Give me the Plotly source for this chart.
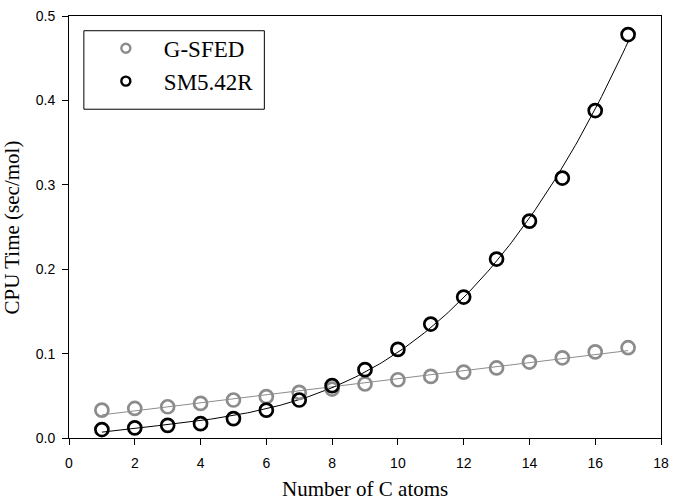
import numpy as np
import plotly.graph_objects as go

carbons = list(range(1, 18))
gsfed = [0.033, 0.035, 0.037, 0.041, 0.045, 0.049, 0.054, 0.058, 0.064, 0.069,
         0.073, 0.078, 0.083, 0.090, 0.095, 0.102, 0.107]
sm542r = [0.010, 0.012, 0.015, 0.017, 0.023, 0.033, 0.045, 0.062, 0.081, 0.105,
          0.135, 0.167, 0.212, 0.257, 0.308, 0.388, 0.478]
series_names = ["G-SFED", "SM5.42R"]
x_ticks = list(range(0, 19, 2))
y_ticks = [0.0, 0.1, 0.2, 0.3, 0.4, 0.5]
y_tick_labels = ["0.0", "0.1", "0.2", "0.3", "0.4", "0.5"]

GRAY = "#8c8c8c"
SERIF = "Liberation Serif, Times New Roman, serif"
SANS = "Liberation Sans, Arial, sans-serif"

# fitted curves computed from the data
xs = np.linspace(1, 17, 200)
g_fit = np.polyval(np.polyfit(carbons, gsfed, 1), xs)
s_fit = np.polyval(np.polyfit(carbons, sm542r, 3), xs)

fig = go.Figure()
fig.add_trace(go.Scatter(x=xs, y=g_fit, mode="lines", line=dict(color=GRAY, width=1),
                         showlegend=False, hoverinfo="skip"))
fig.add_trace(go.Scatter(x=xs, y=s_fit, mode="lines", line=dict(color="black", width=1),
                         showlegend=False, hoverinfo="skip"))
for name, vals, col in [(series_names[0], gsfed, GRAY), (series_names[1], sm542r, "black")]:
    fig.add_trace(go.Scatter(x=carbons, y=vals, mode="markers", name=name, showlegend=False,
                             marker=dict(symbol="circle-open", size=13, color=col,
                                         line=dict(width=2.7, color=col))))
    # legend entry with smaller symbol
    fig.add_trace(go.Scatter(x=[None], y=[None], mode="markers", name=name,
                             marker=dict(symbol="circle-open", size=9, color=col,
                                         line=dict(width=2.4, color=col))))

axis_common = dict(showgrid=False, zeroline=False, showline=True, linecolor="black",
                   linewidth=1, mirror=True, ticks="outside", ticklen=6, tickcolor="black",
                   tickfont=dict(family=SANS, size=14, color="black"))
fig.update_xaxes(range=[0, 18], tickvals=x_ticks, ticklabelstandoff=6, **axis_common)
fig.update_yaxes(range=[0, 0.5], tickvals=y_ticks, ticktext=y_tick_labels,
                 ticklabelstandoff=4, **axis_common)

W, H = 677, 500
L, R, T, B = 69, 11, 8, 62
pw, ph = W - L - R, H - T - B


def px(x):
    return (x - L) / pw


def py(y):
    return (H - B - y) / ph


fig.update_layout(
    width=W, height=H,
    margin=dict(l=L, r=R, t=T, b=B),
    paper_bgcolor="white", plot_bgcolor="white",
    legend=dict(x=px(88), y=py(19), xanchor="left", yanchor="top",
                borderwidth=0, bgcolor="rgba(0,0,0,0)",
                font=dict(family=SERIF, size=23, color="black"),
                itemwidth=66, tracegroupgap=0),
    shapes=[dict(type="rect", xref="paper", yref="paper",
                 x0=px(84), x1=px(266), y0=py(103), y1=py(23),
                 line=dict(color="black", width=1), fillcolor="rgba(0,0,0,0)")],
    annotations=[
        dict(text="Number of C atoms", x=0.5, y=py(490), xref="paper", yref="paper",
             showarrow=False, yanchor="middle",
             font=dict(family=SERIF, size=21, color="black")),
        dict(text="CPU Time (sec/mol)", x=px(12), y=0.5, xref="paper", yref="paper",
             showarrow=False, textangle=-90, xanchor="center", yanchor="middle",
             font=dict(family=SERIF, size=21, color="black")),
    ],
)

fig.write_html("out.html", config={"displayModeBar": False},
               post_script="document.body.style.margin='0px';")
